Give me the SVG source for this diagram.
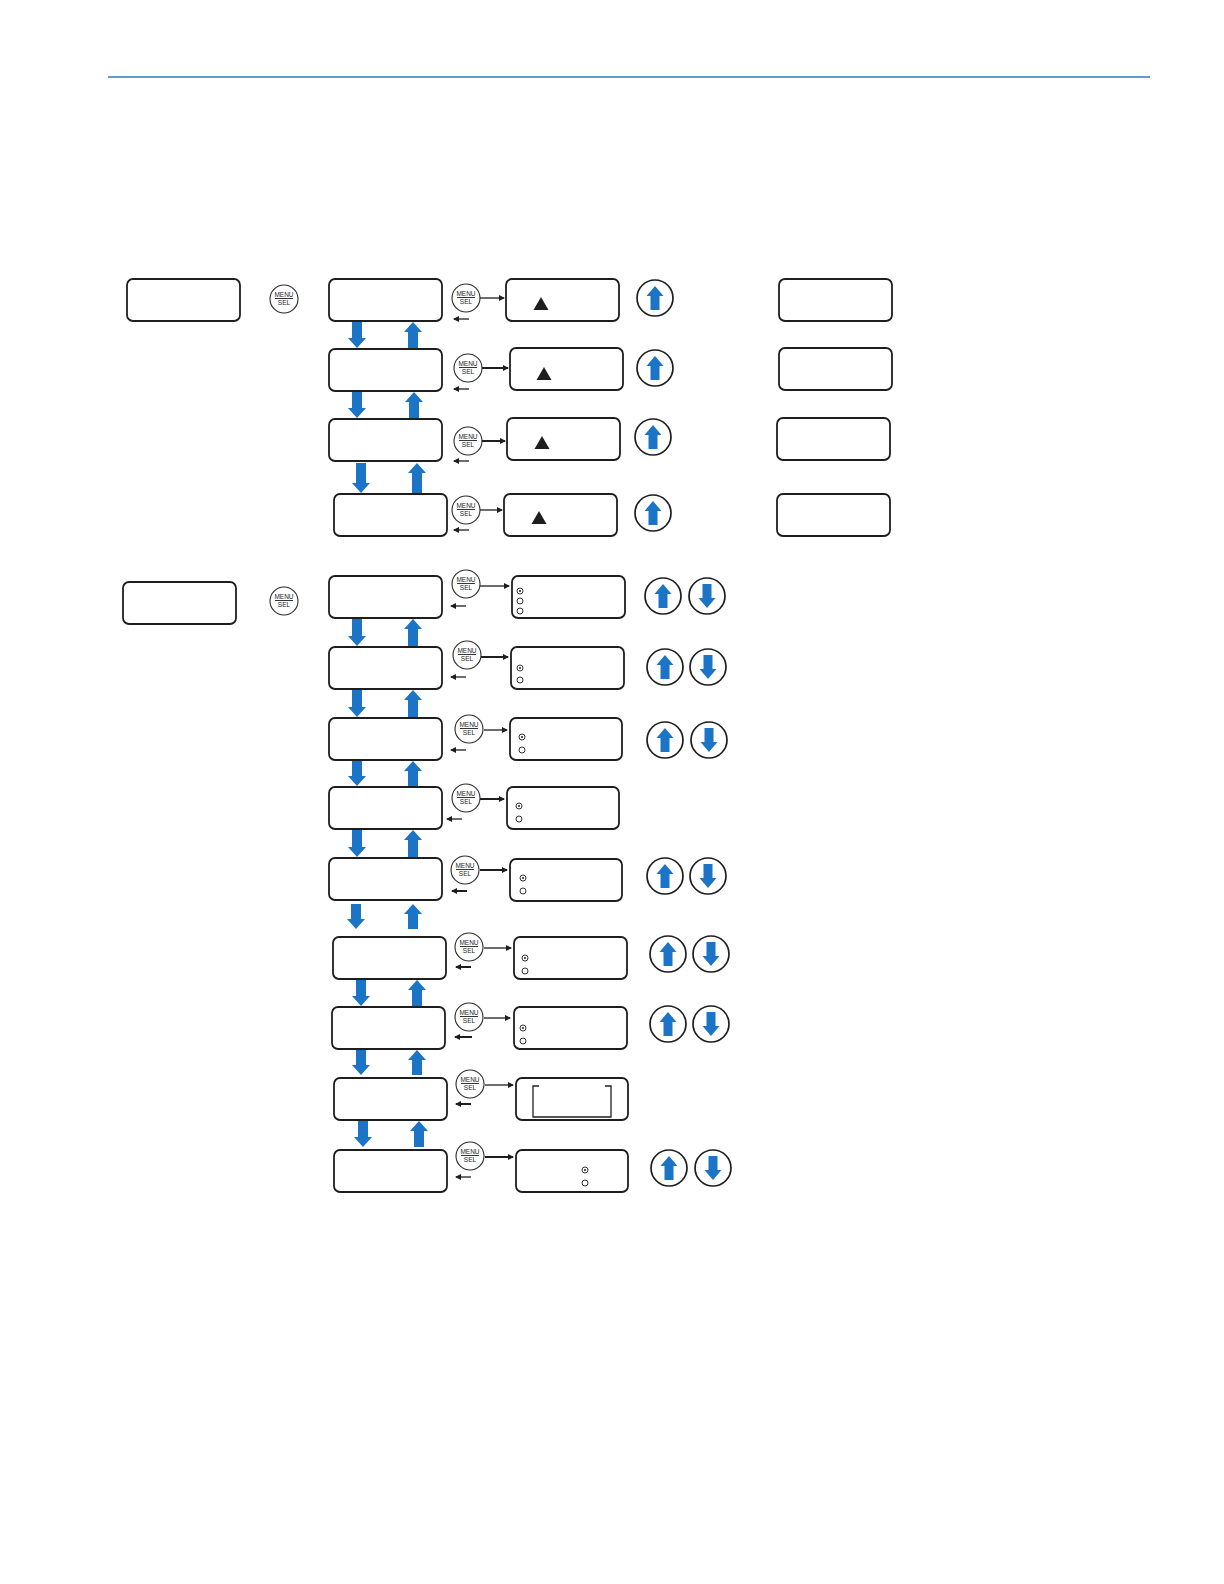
<svg xmlns="http://www.w3.org/2000/svg" width="1224" height="1584" viewBox="0 0 1224 1584">
<defs>
<style>
.box{fill:#fff;stroke:#1e1e1e;stroke-width:1.8}
.btn{fill:#fff;stroke:#2a2a2a;stroke-width:1.1}
.bt{font-family:"Liberation Sans",Arial,sans-serif;font-size:6.5px;fill:#1e1e1e;text-anchor:middle}
.bl{stroke:#1e1e1e;stroke-width:0.9}
.ud{fill:#fff;stroke:#1e1e1e;stroke-width:1.7}
.blue{fill:#1b74c5}
.ar{stroke:#1e1e1e;stroke-width:1.3;fill:none;marker-end:url(#ah)}
.ar2{stroke:#1e1e1e;stroke-width:2;fill:none;marker-end:url(#ah)}
.rd{fill:#fff;stroke:#1e1e1e;stroke-width:0.9}
.dot{fill:#1e1e1e}
.tri{fill:#1e1e1e}
</style>
<marker id="ah" viewBox="0 0 6 6" refX="5" refY="3" markerWidth="6" markerHeight="6" markerUnits="userSpaceOnUse" orient="auto">
<path d="M0,0 L6,3 L0,6 z" fill="#1e1e1e"/>
</marker>
</defs>
<rect width="1224" height="1584" fill="#fff"/>
<line x1="108" y1="77" x2="1150" y2="77" stroke="#2a7cbb" stroke-width="1.4"/>

<g id="connectors">
<!-- section 1 blue arrows -->
<polygon class="blue" points="352,322 362,322 362,338 366,338 357,348 348,338 352,338"/>
<polygon class="blue" points="413,322 422,332 418,332 418,348 408,348 408,332 404,332"/>
<polygon class="blue" points="352,392 362,392 362,408 366,408 357,418 348,408 352,408"/>
<polygon class="blue" points="414,392 423,402 419,402 419,418 409,418 409,402 405,402"/>
<polygon class="blue" points="356,463 366,463 366,483 370,483 361,493 352,483 356,483"/>
<polygon class="blue" points="417,463 426,473 422,473 422,493 412,493 412,473 408,473"/>
<!-- section 2 blue arrows -->
<polygon class="blue" points="352,619 362,619 362,636 366,636 357,646 348,636 352,636"/>
<polygon class="blue" points="413,619 422,629 418,629 418,646 408,646 408,629 404,629"/>
<polygon class="blue" points="352,690 362,690 362,707 366,707 357,717 348,707 352,707"/>
<polygon class="blue" points="413,690 422,700 418,700 418,717 408,717 408,700 404,700"/>
<polygon class="blue" points="352,761 362,761 362,776 366,776 357,786 348,776 352,776"/>
<polygon class="blue" points="413,761 422,771 418,771 418,786 408,786 408,771 404,771"/>
<polygon class="blue" points="352,830 362,830 362,847 366,847 357,857 348,847 352,847"/>
<polygon class="blue" points="413,830 422,840 418,840 418,857 408,857 408,840 404,840"/>
<polygon class="blue" points="351,904 361,904 361,919 365,919 356,929 347,919 351,919"/>
<polygon class="blue" points="413,904 422,914 418,914 418,929 408,929 408,914 404,914"/>
<polygon class="blue" points="356,980 366,980 366,996 370,996 361,1006 352,996 356,996"/>
<polygon class="blue" points="417,980 426,990 422,990 422,1006 412,1006 412,990 408,990"/>
<polygon class="blue" points="356,1050 366,1050 366,1065 370,1065 361,1075 352,1065 356,1065"/>
<polygon class="blue" points="417,1050 426,1060 422,1060 422,1075 412,1075 412,1060 408,1060"/>
<polygon class="blue" points="358,1121 368,1121 368,1137 372,1137 363,1147 354,1137 358,1137"/>
<polygon class="blue" points="419,1121 428,1131 424,1131 424,1147 414,1147 414,1131 410,1131"/>
<!-- section 1 black arrows -->
<line class="ar" x1="480" y1="298" x2="504" y2="298"/>
<line class="ar" x1="469" y1="319" x2="454" y2="319"/>
<line class="ar2" x1="482" y1="368" x2="508" y2="368"/>
<line class="ar" x1="469" y1="389" x2="454" y2="389"/>
<line class="ar2" x1="482" y1="441" x2="505" y2="441"/>
<line class="ar" x1="469" y1="461" x2="454" y2="461"/>
<line class="ar" x1="480" y1="510" x2="502" y2="510"/>
<line class="ar" x1="469" y1="530" x2="454" y2="530"/>
<!-- section 2 black arrows -->
<line class="ar" x1="480" y1="586" x2="509" y2="586"/>
<line class="ar" x1="466" y1="606" x2="451" y2="606"/>
<line class="ar2" x1="481" y1="657" x2="508" y2="657"/>
<line class="ar" x1="466" y1="677" x2="451" y2="677"/>
<line class="ar" x1="484" y1="730" x2="507" y2="730"/>
<line class="ar" x1="466" y1="750" x2="451" y2="750"/>
<line class="ar2" x1="480" y1="799" x2="504" y2="799"/>
<line class="ar" x1="462" y1="819" x2="447" y2="819"/>
<line class="ar2" x1="480" y1="870" x2="507" y2="870"/>
<line class="ar2" x1="467" y1="891" x2="452" y2="891"/>
<line class="ar" x1="484" y1="948" x2="511" y2="948"/>
<line class="ar2" x1="471" y1="967" x2="456" y2="967"/>
<line class="ar" x1="484" y1="1018" x2="510" y2="1018"/>
<line class="ar2" x1="472" y1="1037" x2="455" y2="1037"/>
<line class="ar" x1="485" y1="1085" x2="513" y2="1085"/>
<line class="ar2" x1="471" y1="1104" x2="456" y2="1104"/>
<line class="ar2" x1="485" y1="1157" x2="513" y2="1157"/>
<line class="ar" x1="471" y1="1177" x2="456" y2="1177"/>
</g>

<!-- Section 1 -->
<g id="L1"><rect class="box" x="127" y="279" width="113" height="42" rx="6"/></g>
<g id="M0a"><circle class="btn" cx="284" cy="299" r="14"/><text class="bt" x="284" y="297">MENU</text><line class="bl" x1="275" y1="298.5" x2="293" y2="298.5"/><text class="bt" x="284" y="305">SEL</text></g>

<g id="A1"><rect class="box" x="329" y="279" width="113" height="42" rx="6"/></g>
<g id="A2"><rect class="box" x="329" y="349" width="113" height="42" rx="6"/></g>
<g id="A3"><rect class="box" x="329" y="419" width="113" height="42" rx="6"/></g>
<g id="A4"><rect class="box" x="334" y="494" width="113" height="42" rx="6"/></g>

<g id="MA1"><circle class="btn" cx="466" cy="298" r="14"/><text class="bt" x="466" y="296">MENU</text><line class="bl" x1="457" y1="297.5" x2="475" y2="297.5"/><text class="bt" x="466" y="304">SEL</text></g>
<g id="MA2"><circle class="btn" cx="468" cy="368" r="14"/><text class="bt" x="468" y="366">MENU</text><line class="bl" x1="459" y1="367.5" x2="477" y2="367.5"/><text class="bt" x="468" y="374">SEL</text></g>
<g id="MA3"><circle class="btn" cx="468" cy="441" r="14"/><text class="bt" x="468" y="439">MENU</text><line class="bl" x1="459" y1="440.5" x2="477" y2="440.5"/><text class="bt" x="468" y="447">SEL</text></g>
<g id="MA4"><circle class="btn" cx="466" cy="510" r="14"/><text class="bt" x="466" y="508">MENU</text><line class="bl" x1="457" y1="509.5" x2="475" y2="509.5"/><text class="bt" x="466" y="516">SEL</text></g>

<g id="B1"><rect class="box" x="506" y="279" width="113" height="42" rx="6"/><polygon class="tri" points="541,297 548.5,310 533.5,310"/></g>
<g id="B2"><rect class="box" x="510" y="348" width="113" height="42" rx="6"/><polygon class="tri" points="544,367 551.5,380 536.5,380"/></g>
<g id="B3"><rect class="box" x="507" y="418" width="113" height="42" rx="6"/><polygon class="tri" points="542,436 549.5,449 534.5,449"/></g>
<g id="B4"><rect class="box" x="504" y="494" width="113" height="42" rx="6"/><polygon class="tri" points="539,511 546.5,524 531.5,524"/></g>

<g id="UA1"><circle class="ud" cx="655" cy="298" r="18"/><polygon class="blue" points="655,286 663.5,296 659.5,296 659.5,310 650.5,310 650.5,296 646.5,296"/></g>
<g id="UA2"><circle class="ud" cx="655" cy="368" r="18"/><polygon class="blue" points="655,356 663.5,366 659.5,366 659.5,380 650.5,380 650.5,366 646.5,366"/></g>
<g id="UA3"><circle class="ud" cx="653" cy="437" r="18"/><polygon class="blue" points="653,425 661.5,435 657.5,435 657.5,449 648.5,449 648.5,435 644.5,435"/></g>
<g id="UA4"><circle class="ud" cx="653" cy="513" r="18"/><polygon class="blue" points="653,501 661.5,511 657.5,511 657.5,525 648.5,525 648.5,511 644.5,511"/></g>

<g id="C1"><rect class="box" x="779" y="279" width="113" height="42" rx="6"/></g>
<g id="C2"><rect class="box" x="779" y="348" width="113" height="42" rx="6"/></g>
<g id="C3"><rect class="box" x="777" y="418" width="113" height="42" rx="6"/></g>
<g id="C4"><rect class="box" x="777" y="494" width="113" height="42" rx="6"/></g>

<!-- Section 2 -->
<g id="L2"><rect class="box" x="123" y="582" width="113" height="42" rx="6"/></g>
<g id="M0b"><circle class="btn" cx="284" cy="601" r="14"/><text class="bt" x="284" y="599">MENU</text><line class="bl" x1="275" y1="600.5" x2="293" y2="600.5"/><text class="bt" x="284" y="607">SEL</text></g>

<g id="D1"><rect class="box" x="329" y="576" width="113" height="42" rx="6"/></g>
<g id="D2"><rect class="box" x="329" y="647" width="113" height="42" rx="6"/></g>
<g id="D3"><rect class="box" x="329" y="718" width="113" height="42" rx="6"/></g>
<g id="D4"><rect class="box" x="329" y="787" width="113" height="42" rx="6"/></g>
<g id="D5"><rect class="box" x="329" y="858" width="113" height="42" rx="6"/></g>
<g id="D6"><rect class="box" x="333" y="937" width="113" height="42" rx="6"/></g>
<g id="D7"><rect class="box" x="332" y="1007" width="113" height="42" rx="6"/></g>
<g id="D8"><rect class="box" x="334" y="1078" width="113" height="42" rx="6"/></g>
<g id="D9"><rect class="box" x="334" y="1150" width="113" height="42" rx="6"/></g>

<g id="MD1"><circle class="btn" cx="466" cy="584" r="14"/><text class="bt" x="466" y="582">MENU</text><line class="bl" x1="457" y1="583.5" x2="475" y2="583.5"/><text class="bt" x="466" y="590">SEL</text></g>
<g id="MD2"><circle class="btn" cx="467" cy="655" r="14"/><text class="bt" x="467" y="653">MENU</text><line class="bl" x1="458" y1="654.5" x2="476" y2="654.5"/><text class="bt" x="467" y="661">SEL</text></g>
<g id="MD3"><circle class="btn" cx="469" cy="729" r="14"/><text class="bt" x="469" y="727">MENU</text><line class="bl" x1="460" y1="728.5" x2="478" y2="728.5"/><text class="bt" x="469" y="735">SEL</text></g>
<g id="MD4"><circle class="btn" cx="466" cy="798" r="14"/><text class="bt" x="466" y="796">MENU</text><line class="bl" x1="457" y1="797.5" x2="475" y2="797.5"/><text class="bt" x="466" y="804">SEL</text></g>
<g id="MD5"><circle class="btn" cx="465" cy="870" r="14"/><text class="bt" x="465" y="868">MENU</text><line class="bl" x1="456" y1="869.5" x2="474" y2="869.5"/><text class="bt" x="465" y="876">SEL</text></g>
<g id="MD6"><circle class="btn" cx="469" cy="947" r="14"/><text class="bt" x="469" y="945">MENU</text><line class="bl" x1="460" y1="946.5" x2="478" y2="946.5"/><text class="bt" x="469" y="953">SEL</text></g>
<g id="MD7"><circle class="btn" cx="469" cy="1017" r="14"/><text class="bt" x="469" y="1015">MENU</text><line class="bl" x1="460" y1="1016.5" x2="478" y2="1016.5"/><text class="bt" x="469" y="1023">SEL</text></g>
<g id="MD8"><circle class="btn" cx="470" cy="1084" r="14"/><text class="bt" x="470" y="1082">MENU</text><line class="bl" x1="461" y1="1083.5" x2="479" y2="1083.5"/><text class="bt" x="470" y="1090">SEL</text></g>
<g id="MD9"><circle class="btn" cx="470" cy="1156" r="14"/><text class="bt" x="470" y="1154">MENU</text><line class="bl" x1="461" y1="1155.5" x2="479" y2="1155.5"/><text class="bt" x="470" y="1162">SEL</text></g>

<g id="E1"><rect class="box" x="512" y="576" width="113" height="42" rx="6"/><circle class="rd" cx="520" cy="591" r="3"/><circle class="dot" cx="520" cy="591" r="1"/><circle class="rd" cx="520" cy="601" r="3"/><circle class="rd" cx="520" cy="611" r="3"/></g>
<g id="E2"><rect class="box" x="511" y="647" width="113" height="42" rx="6"/><circle class="rd" cx="520" cy="668" r="3"/><circle class="dot" cx="520" cy="668" r="1"/><circle class="rd" cx="520" cy="680" r="3"/></g>
<g id="E3"><rect class="box" x="510" y="718" width="112" height="42" rx="6"/><circle class="rd" cx="522" cy="737" r="3"/><circle class="dot" cx="522" cy="737" r="1"/><circle class="rd" cx="522" cy="750" r="3"/></g>
<g id="E4"><rect class="box" x="507" y="787" width="112" height="42" rx="6"/><circle class="rd" cx="519" cy="806" r="3"/><circle class="dot" cx="519" cy="806" r="1"/><circle class="rd" cx="519" cy="819" r="3"/></g>
<g id="E5"><rect class="box" x="510" y="859" width="112" height="42" rx="6"/><circle class="rd" cx="523" cy="878" r="3"/><circle class="dot" cx="523" cy="878" r="1"/><circle class="rd" cx="523" cy="891" r="3"/></g>
<g id="E6"><rect class="box" x="514" y="937" width="113" height="42" rx="6"/><circle class="rd" cx="525" cy="958" r="3"/><circle class="dot" cx="525" cy="958" r="1"/><circle class="rd" cx="525" cy="971" r="3"/></g>
<g id="E7"><rect class="box" x="514" y="1007" width="113" height="42" rx="6"/><circle class="rd" cx="523" cy="1028" r="3"/><circle class="dot" cx="523" cy="1028" r="1"/><circle class="rd" cx="523" cy="1041" r="3"/></g>
<g id="E8"><rect class="box" x="516" y="1078" width="112" height="42" rx="6"/><path d="M539,1086 H533 V1117 H611 V1086 H605" fill="none" stroke="#1e1e1e" stroke-width="1.3"/></g>
<g id="E9"><rect class="box" x="516" y="1150" width="112" height="42" rx="6"/><circle class="rd" cx="585" cy="1170" r="3"/><circle class="dot" cx="585" cy="1170" r="1"/><circle class="rd" cx="585" cy="1183" r="3"/></g>

<g id="UD1"><circle class="ud" cx="663" cy="596" r="18"/><polygon class="blue" points="663,584 671.5,594 667.5,594 667.5,608 658.5,608 658.5,594 654.5,594"/><circle class="ud" cx="707" cy="596" r="18"/><polygon class="blue" points="702.5,584 711.5,584 711.5,598 715.5,598 707,608 698.5,598 702.5,598"/></g>
<g id="UD2"><circle class="ud" cx="665" cy="667" r="18"/><polygon class="blue" points="665,655 673.5,665 669.5,665 669.5,679 660.5,679 660.5,665 656.5,665"/><circle class="ud" cx="708" cy="667" r="18"/><polygon class="blue" points="703.5,655 712.5,655 712.5,669 716.5,669 708,679 699.5,669 703.5,669"/></g>
<g id="UD3"><circle class="ud" cx="665" cy="740" r="18"/><polygon class="blue" points="665,728 673.5,738 669.5,738 669.5,752 660.5,752 660.5,738 656.5,738"/><circle class="ud" cx="709" cy="740" r="18"/><polygon class="blue" points="704.5,728 713.5,728 713.5,742 717.5,742 709,752 700.5,742 704.5,742"/></g>
<g id="UD5"><circle class="ud" cx="665" cy="876" r="18"/><polygon class="blue" points="665,864 673.5,874 669.5,874 669.5,888 660.5,888 660.5,874 656.5,874"/><circle class="ud" cx="708" cy="876" r="18"/><polygon class="blue" points="703.5,864 712.5,864 712.5,878 716.5,878 708,888 699.5,878 703.5,878"/></g>
<g id="UD6"><circle class="ud" cx="668" cy="954" r="18"/><polygon class="blue" points="668,942 676.5,952 672.5,952 672.5,966 663.5,966 663.5,952 659.5,952"/><circle class="ud" cx="711" cy="954" r="18"/><polygon class="blue" points="706.5,942 715.5,942 715.5,956 719.5,956 711,966 702.5,956 706.5,956"/></g>
<g id="UD7"><circle class="ud" cx="668" cy="1024" r="18"/><polygon class="blue" points="668,1012 676.5,1022 672.5,1022 672.5,1036 663.5,1036 663.5,1022 659.5,1022"/><circle class="ud" cx="711" cy="1024" r="18"/><polygon class="blue" points="706.5,1012 715.5,1012 715.5,1026 719.5,1026 711,1036 702.5,1026 706.5,1026"/></g>
<g id="UD9"><circle class="ud" cx="669" cy="1168" r="18"/><polygon class="blue" points="669,1156 677.5,1166 673.5,1166 673.5,1180 664.5,1180 664.5,1166 660.5,1166"/><circle class="ud" cx="713" cy="1168" r="18"/><polygon class="blue" points="708.5,1156 717.5,1156 717.5,1170 721.5,1170 713,1180 704.5,1170 708.5,1170"/></g>
</svg>
